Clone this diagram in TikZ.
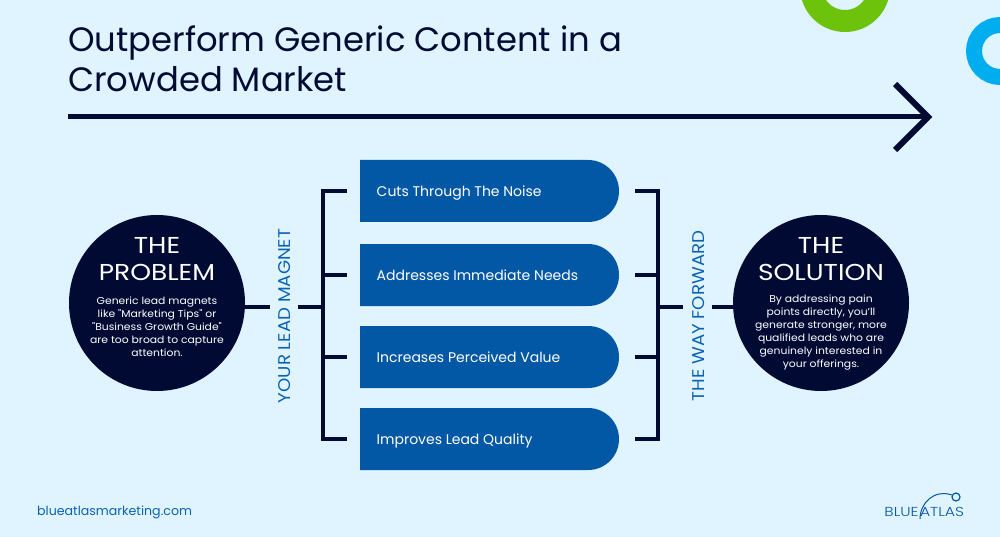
\documentclass[tikz,border=0pt]{standalone}
\usepackage{fontspec}
\setmainfont{Poppins}
\newfontfamily\wideh[FakeStretch=1.15]{Poppins}
\newfontfamily\wideb[FakeStretch=1.08]{Poppins}
\newfontfamily\wides[FakeStretch=1.07]{Poppins}
\newfontfamily\widel[FakeStretch=1.2]{Poppins Light}
\definecolor{bg}{HTML}{DFF4FF}
\definecolor{navy}{HTML}{000A33}
\definecolor{boxblue}{HTML}{0358A5}
\definecolor{labelblue}{HTML}{0A62B4}
\definecolor{ringgreen}{HTML}{6DC30C}
\definecolor{ringblue}{HTML}{00AEEF}
\tikzset{
  x=1pt,y=-1pt,
  titletext/.style={anchor=base west,inner sep=0pt,font=\fontsize{33.8}{40}\selectfont,text=navy},
  boxtext/.style={font=\fontsize{14}{16}\selectfont,text=white,anchor=base west,inner sep=0pt},
  bigcircle/.style={circle,fill=navy,minimum size=176pt,inner sep=0pt},
  headtext/.style={font=\wideh\fontsize{23}{27.5}\selectfont,text=white,align=center,inner sep=0pt},
  bodytext/.style={font=\wideb\fontsize{10}{13}\selectfont,text=white,align=center,inner sep=0pt},
  sidetext/.style={font=\wides\fontsize{17}{20}\selectfont,text=labelblue,rotate=90,inner sep=0pt},
  link/.style={draw=navy,line width=3.6pt},
  logotext/.style={anchor=base,inner sep=0pt,font=\widel\fontsize{13}{15}\selectfont,text=boxblue},
}
\begin{document}
\begin{tikzpicture}
\useasboundingbox (0,0) rectangle (1000,537);
\clip (0,0) rectangle (1000,537);
\fill[bg] (0,0) rectangle (1000,537);
% rings
\draw[ringgreen,line width=22pt] (845,-13) circle (34);
\draw[ringblue,line width=16pt] (1000,51) circle (26);
% title
\node[titletext] (title1) at (68,51.5) {Outperform Generic Content in a};
\node[titletext] (title2) at (68,91.5) {Crowded Market};
% arrow
\coordinate (arrowstart) at (68,117);
\coordinate (arrowtip) at (928,117);
\coordinate (headtop) at (895,84);
\coordinate (headbot) at (895,150);
\draw[navy,line width=5pt] (arrowstart) -- (arrowtip);
\draw[navy,line width=6pt,miter limit=4] (headtop) -- (arrowtip) -- (headbot);
% circles
\node[bigcircle] (prob) at (157,303) {};
\node[bigcircle] (sol) at (821,303) {};
\node[headtext] (probhead) at (157,259) {THE\\PROBLEM};
\node[bodytext] (probbody) at (157,327) {Generic lead magnets\\like "Marketing Tips" or\\"Business Growth Guide"\\are too broad to capture\\attention.};
\node[headtext] (solhead) at (821,259) {THE\\SOLUTION};
\node[bodytext] (solbody) at (821,333) {By addressing pain\\points directly, you’ll\\generate stronger, more\\qualified leads who are\\genuinely interested in\\your offerings.};
% boxes
\foreach \n/\y/\t in {a/191/Cuts Through The Noise,b/275/Addresses Immediate Needs,c/357/Increases Perceived Value,d/439/Improves Lead Quality}{
  \fill[boxblue] (360,\y-31) [rounded corners=30.9pt] -- (619,\y-31) -- (619,\y+31) [sharp corners] -- (360,\y+31) -- cycle;
  \node[boxtext] (box\n) at (376.5,\y+5.5) {\t};
  \coordinate (lt\n) at (347,\y);
  \coordinate (ll\n) at (323,\y);
  \coordinate (rt\n) at (635,\y);
  \coordinate (rr\n) at (658,\y);
}
% brackets
\draw[link] (lta) -- (lla) -- (lld) -- (ltd);
\draw[link] (ltb) -- (llb);
\draw[link] (ltc) -- (llc);
\draw[link] (rta) -- (rra) -- (rrd) -- (rtd);
\draw[link] (rtb) -- (rrb);
\draw[link] (rtc) -- (rrc);
% side labels
\node[sidetext] (lead) at (284.5,316) {YOUR LEAD MAGNET};
\node[sidetext] (way) at (698.5,316) {THE WAY FORWARD};
% connectors
\coordinate (lm) at (323,307);
\coordinate (rm) at (658,307);
\coordinate (lg0) at (244,307);
\coordinate (lg1) at (270,307);
\coordinate (lg2) at (298,307);
\coordinate (rg1) at (683,307);
\coordinate (rg2) at (712,307);
\coordinate (rg3) at (734,307);
\draw[link] (lg0) -- (lg1);
\draw[link] (lg2) -- (lm);
\draw[link] (rm) -- (rg1);
\draw[link] (rg2) -- (rg3);
% footer
\node[anchor=west,inner sep=0pt,font=\fontsize{12.6}{16}\selectfont,text=labelblue] (url) at (37,512) {blueatlasmarketing.com};
% logo
\node[logotext] (logo1) at (901.5,516) {BLUE};
\node[logotext] (logo2) at (942,516) {ATLAS};
\draw[boxblue,line width=1pt] (920,519) .. controls (920,503) and (934,489) .. (952,495);
\draw[boxblue,line width=1.2pt] (956,497) circle (4);
\end{tikzpicture}
\end{document}
